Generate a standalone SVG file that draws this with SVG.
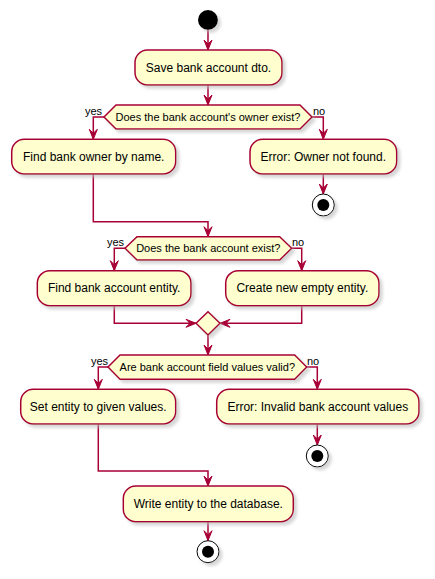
<svg xmlns="http://www.w3.org/2000/svg" width="435" height="579" viewBox="0 0 435 579">
<defs>
<filter id="sh" x="-20%" y="-20%" width="150%" height="170%">
<feGaussianBlur in="SourceAlpha" stdDeviation="1.7" result="b"/>
<feOffset dx="3" dy="3" in="b" result="o"/>
<feColorMatrix in="o" type="matrix" values="0 0 0 0 0.5  0 0 0 0 0.5  0 0 0 0 0.5  0 0 0 0.6 0" result="c"/>
<feMerge><feMergeNode in="c"/><feMergeNode in="SourceGraphic"/></feMerge>
</filter>
</defs>
<style>
.act{fill:#FEFECE;stroke:#A80036;stroke-width:1.5;filter:url(#sh)}
.dec{fill:#FEFECE;stroke:#A80036;stroke-width:1.5;filter:url(#sh)}
.t{font-family:"Liberation Sans",Arial,sans-serif;font-size:12px;fill:#000;text-anchor:middle}
.d{font-family:"Liberation Sans",Arial,sans-serif;font-size:11px;fill:#000;text-anchor:middle}
.l{font-family:"Liberation Sans",Arial,sans-serif;font-size:11px;fill:#000}
.ln{fill:none;stroke:#A80036;stroke-width:1.5}
.ah{fill:#A80036;stroke:#A80036;stroke-width:1}
.stopo{fill:#FFFFFF;stroke:#000;stroke-width:1;filter:url(#sh)}
</style>

<g id="connectors">
<path class="ln" d="M208,30 V50"/>
<polygon class="ah" points="204,40 208,50 212,40 208,44"/>
<path class="ln" d="M208,85 V105"/>
<polygon class="ah" points="204,95 208,105 212,95 208,99"/>
<path class="ln" d="M104,117 H93.3 V139.3"/>
<polygon class="ah" points="89.3,129.3 93.3,139.3 97.3,129.3 93.3,133.3"/>
<path class="ln" d="M312,117 H323.3 V139.3"/>
<polygon class="ah" points="319.3,129.3 323.3,139.3 327.3,129.3 323.3,133.3"/>
<path class="ln" d="M323.3,174 V194"/>
<polygon class="ah" points="319.3,184 323.3,194 327.3,184 323.3,188"/>
<path class="ln" d="M93.3,174 V221.7 H208 V236.7"/>
<polygon class="ah" points="204,226.7 208,236.7 212,226.7 208,230.7"/>
<path class="ln" d="M125,248.3 H114.3 V270.7"/>
<polygon class="ah" points="110.3,260.7 114.3,270.7 118.3,260.7 114.3,264.7"/>
<path class="ln" d="M291.7,248.3 H301.7 V270.7"/>
<polygon class="ah" points="297.7,260.7 301.7,270.7 305.7,260.7 301.7,264.7"/>
<path class="ln" d="M114.3,305.7 V323.3 H196"/>
<polygon class="ah" points="186,319.3 196,323.3 186,327.3 190,323.3"/>
<path class="ln" d="M301.7,305.7 V323.3 H220"/>
<polygon class="ah" points="230,319.3 220,323.3 230,327.3 226,323.3"/>
<path class="ln" d="M208,335 V355"/>
<polygon class="ah" points="204,345 208,355 212,345 208,349"/>
<path class="ln" d="M108,367 H98.3 V389.3"/>
<polygon class="ah" points="94.3,379.3 98.3,389.3 102.3,379.3 98.3,383.3"/>
<path class="ln" d="M306.7,367 H317.3 V389.3"/>
<polygon class="ah" points="313.3,379.3 317.3,389.3 321.3,379.3 317.3,383.3"/>
<path class="ln" d="M317.3,424 V445"/>
<polygon class="ah" points="313.3,435 317.3,445 321.3,435 317.3,439"/>
<path class="ln" d="M98.3,424 V471 H208 V486"/>
<polygon class="ah" points="204,476 208,486 212,476 208,480"/>
<path class="ln" d="M208,521.7 V540.7"/>
<polygon class="ah" points="204,530.7 208,540.7 212,530.7 208,534.7"/>
<text class="l" x="85" y="115">yes</text>
<text class="l" x="313" y="115">no</text>
<text class="l" x="107" y="246">yes</text>
<text class="l" x="292" y="246">no</text>
<text class="l" x="91" y="365">yes</text>
<text class="l" x="307" y="365">no</text>
</g>

<g id="start"><circle cx="208" cy="20" r="10" fill="#000" filter="url(#sh)"/></g>

<g id="save"><rect class="act" x="135" y="50" width="147" height="35" rx="12.5"/><text class="t" x="208.5" y="71.5">Save bank account dto.</text></g>

<g id="dec1"><polygon class="dec" points="104,117 116,105 300,105 312,117 300,129 116,129"/><text class="d" x="208" y="121">Does the bank account's owner exist?</text></g>

<g id="findOwner"><rect class="act" x="11.7" y="139.3" width="164" height="34.7" rx="12.5"/><text class="t" x="93.7" y="160.8">Find bank owner by name.</text></g>

<g id="errOwner"><rect class="act" x="250" y="139.3" width="146.7" height="34.7" rx="12.5"/><text class="t" x="323.3" y="160.8">Error: Owner not found.</text></g>

<g id="stop1"><circle class="stopo" cx="323.3" cy="205" r="11"/><circle cx="323.3" cy="205" r="6" fill="#000"/></g>

<g id="dec2"><polygon class="dec" points="125,248.3 137,236.7 279.7,236.7 291.7,248.3 279.7,260 137,260"/><text class="d" x="208.3" y="252.3">Does the bank account exist?</text></g>

<g id="findAcc"><rect class="act" x="37.3" y="270.7" width="153.7" height="35" rx="12.5"/><text class="t" x="114.2" y="292.2">Find bank account entity.</text></g>

<g id="createNew"><rect class="act" x="225.7" y="270.7" width="153.3" height="35" rx="12.5"/><text class="t" x="302.3" y="292.2">Create new empty entity.</text></g>

<g id="merge"><polygon class="dec" points="196,323.3 208,311.7 220,323.3 208,335"/></g>

<g id="dec3"><polygon class="dec" points="108,367 120,355 294.7,355 306.7,367 294.7,379.3 120,379.3"/><text class="d" x="207.3" y="371">Are bank account field values valid?</text></g>

<g id="setEntity"><rect class="act" x="20.7" y="389.3" width="155" height="34.7" rx="12.5"/><text class="t" x="98.2" y="410.8">Set entity to given values.</text></g>

<g id="errInvalid"><rect class="act" x="216.7" y="389.3" width="202.3" height="34.7" rx="12.5"/><text class="t" x="317.8" y="410.8">Error: Invalid bank account values</text></g>

<g id="stop2"><circle class="stopo" cx="317.3" cy="456" r="11"/><circle cx="317.3" cy="456" r="6" fill="#000"/></g>

<g id="write"><rect class="act" x="123.3" y="486" width="170" height="35.7" rx="12.5"/><text class="t" x="208.3" y="507.8">Write entity to the database.</text></g>

<g id="stop3"><circle class="stopo" cx="208" cy="551.7" r="11"/><circle cx="208" cy="551.7" r="6" fill="#000"/></g>
</svg>
